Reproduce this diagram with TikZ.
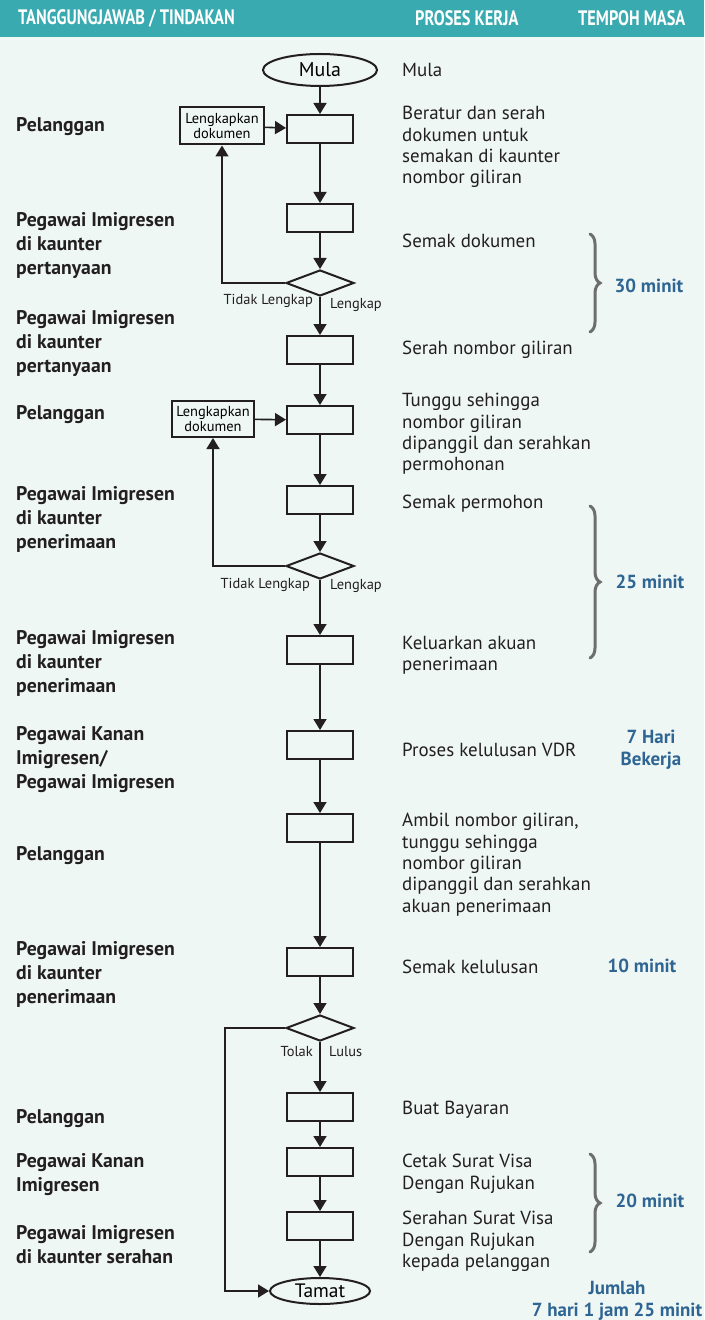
\documentclass[tikz,border=0pt]{standalone}
\usepackage{fontspec}
\setmainfont{PT Sans}
\newfontfamily\headfont{PT Sans}[FakeStretch=0.78]
\usetikzlibrary{shapes.geometric,arrows.meta,decorations.pathreplacing}

\definecolor{bgmint}{HTML}{EEF7F4}
\definecolor{headteal}{HTML}{38AAB0}
\definecolor{timeblue}{HTML}{2F6593}
\definecolor{bracegray}{HTML}{6D6E70}
\definecolor{ink}{HTML}{231F20}

\tikzset{
  proc/.style={draw=ink, line width=2bp, minimum width=66bp, minimum height=28bp, inner sep=0pt},
  semak/.style={diamond, draw=ink, line width=2bp, minimum width=68bp, minimum height=26bp, inner sep=0pt},
  hujung/.style={ellipse, draw=ink, line width=2bp, inner sep=0pt},
  lengkapbox/.style={draw=ink, line width=2bp, align=center, inner sep=0pt, minimum width=84bp, minimum height=37bp, font=\fontsize{14.5}{15.5}\selectfont},
  flow/.style={draw=ink, line width=1.6bp, -{Triangle[length=11bp,width=13bp]}},
  kerja/.style={anchor=north west, inner sep=0pt, align=left, yshift=7bp, text=ink, font=\fontsize{19}{21.5}\selectfont},
  tugas/.style={anchor=north west, inner sep=0pt, align=left, yshift=7bp, text=ink, font=\fontsize{19.8}{24}\selectfont\bfseries},
  masa/.style={anchor=north, inner sep=0pt, align=center, yshift=7bp, text=timeblue, font=\fontsize{19}{22}\selectfont\bfseries},
  jawapan/.style={inner sep=0pt, text=ink, font=\fontsize{14.5}{16}\selectfont},
  kurungan/.style={draw=bracegray, line width=3bp, line cap=round, decorate, decoration={brace, amplitude=10bp}},
  tajuk/.style={anchor=west, inner sep=0pt, text=white, font=\headfont\fontsize{21}{24}\selectfont\bfseries}
}

\begin{document}
\begin{tikzpicture}[x=1bp, y=-1bp]
  \useasboundingbox (0,0) rectangle (704,1320);
  \fill[bgmint] (0,0) rectangle (704,1320);
  \fill[headteal] (0,0) rectangle (704,37);

  % header
  \node[tajuk] (h1) at (18,18) {TANGGUNGJAWAB / TINDAKAN};
  \node[tajuk] (h2) at (415,18) {PROSES KERJA};
  \node[tajuk] (h3) at (578,18) {TEMPOH MASA};

  % flow chart
  \node[hujung, minimum width=114bp, minimum height=32bp, font=\fontsize{20}{22}\selectfont] (mula) at (320,70) {Mula};
  \node[proc] (b1) at (320,129) {};
  \node[proc] (b2) at (320,218) {};
  \node[semak] (d1) at (320,283) {};
  \node[proc] (b3) at (320,350) {};
  \node[proc] (b4) at (320,420) {};
  \node[proc] (b5) at (320,500) {};
  \node[semak] (d2) at (320,566) {};
  \node[proc] (b6) at (320,650) {};
  \node[proc] (b7) at (320,745) {};
  \node[proc] (b8) at (320,828) {};
  \node[proc] (b9) at (320,962) {};
  \node[semak] (d3) at (320,1028) {};
  \node[proc] (b10) at (320,1107) {};
  \node[proc] (b11) at (320,1162) {};
  \node[proc] (b12) at (320,1226) {};
  \node[hujung, minimum width=100bp, minimum height=26bp, font=\fontsize{19.5}{21}\selectfont] (tamat) at (320,1291) {Tamat};

  \node[lengkapbox] (lk1) at (222,126) {Lengkapkan\\dokumen};
  \node[lengkapbox, minimum width=82bp, minimum height=36bp] (lk2) at (213,419) {Lengkapkan\\dokumen};

  \foreach \a/\b in {mula/b1, b1/b2, b2/d1, d1/b3, b3/b4, b4/b5, b5/d2, d2/b6,
                     b6/b7, b7/b8, b8/b9, b9/d3, d3/b10, b10/b11, b11/b12, b12/tamat}
    \draw[flow] (\a) -- (\b);

  \draw[flow] (lk1) -- (b1);
  \draw[flow] (lk2) -- (b4);
  \draw[flow] (d1.west) -| (lk1.south);
  \draw[flow] (d2.west) -| (lk2.south);
  \draw[flow] (d3.west) -- ++(-60,0) |- (tamat.west);

  % branch labels
  \node[jawapan, anchor=east] (tl1) at (313,301) {Tidak Lengkap};
  \node[jawapan, anchor=west] (l1) at (330,305) {Lengkap};
  \node[jawapan, anchor=east] (tl2) at (310,585) {Tidak Lengkap};
  \node[jawapan, anchor=west] (l2) at (330,586) {Lengkap};
  \node[jawapan, anchor=east] (tolak) at (313,1052) {Tolak};
  \node[jawapan, anchor=west] (lulus) at (329,1052) {Lulus};

  % proses kerja
  \node[kerja] (k1) at (402,70) {Mula};
  \node[kerja] (k2) at (402,113) {Beratur dan serah\\dokumen untuk\\semakan di kaunter\\nombor giliran};
  \node[kerja] (k3) at (402,241) {Semak dokumen};
  \node[kerja] (k4) at (402,348) {Serah nombor giliran};
  \node[kerja] (k5) at (402,400) {Tunggu sehingga\\nombor giliran\\dipanggil dan serahkan\\permohonan};
  \node[kerja] (k6) at (402,502) {Semak permohon};
  \node[kerja] (k7) at (402,643) {Keluarkan akuan\\penerimaan};
  \node[kerja] (k8) at (402,750) {Proses kelulusan VDR};
  \node[kerja] (k9) at (402,820) {Ambil nombor giliran,\\tunggu sehingga\\nombor giliran\\dipanggil dan serahkan\\akuan penerimaan};
  \node[kerja] (k10) at (402,967) {Semak kelulusan};
  \node[kerja] (k11) at (402,1108) {Buat Bayaran};
  \node[kerja] (k12) at (402,1161) {Cetak Surat Visa\\Dengan Rujukan};
  \node[kerja] (k13) at (402,1218) {Serahan Surat Visa\\Dengan Rujukan\\kepada pelanggan};

  % tanggungjawab
  \node[tugas] (t1) at (16,124) {Pelanggan};
  \node[tugas] (t2) at (16,219) {Pegawai Imigresen\\di kaunter\\pertanyaan};
  \node[tugas] (t3) at (16,317) {Pegawai Imigresen\\di kaunter\\pertanyaan};
  \node[tugas] (t4) at (16,412) {Pelanggan};
  \node[tugas] (t5) at (16,493) {Pegawai Imigresen\\di kaunter\\penerimaan};
  \node[tugas] (t6) at (16,637) {Pegawai Imigresen\\di kaunter\\penerimaan};
  \node[tugas] (t7) at (16,733) {Pegawai Kanan\\Imigresen/\\Pegawai Imigresen};
  \node[tugas] (t8) at (16,853) {Pelanggan};
  \node[tugas] (t9) at (16,948) {Pegawai Imigresen\\di kaunter\\penerimaan};
  \node[tugas] (t10) at (16,1116) {Pelanggan};
  \node[tugas] (t11) at (16,1160) {Pegawai Kanan\\Imigresen};
  \node[tugas] (t12) at (16,1232) {Pegawai Imigresen\\di kaunter serahan};

  % tempoh masa
  \draw[kurungan] (590,234) -- (590,332);
  \draw[kurungan] (590,506) -- (590,658);
  \draw[kurungan] (590,1154) -- (590,1252);
  \node[masa] (m1) at (649,286) {30 minit};
  \node[masa] (m2) at (650,582) {25 minit};
  \node[masa] (m3) at (651,737) {7 Hari\\Bekerja};
  \node[masa] (m4) at (642,966) {10 minit};
  \node[masa] (m5) at (650,1201) {20 minit};
  \node[masa] (m6) at (617,1288) {Jumlah\\7 hari 1 jam 25 minit};
\end{tikzpicture}
\end{document}
